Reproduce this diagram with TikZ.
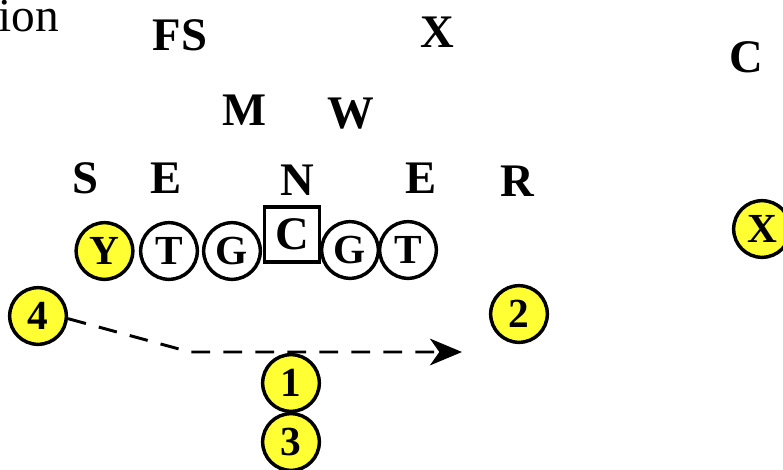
\documentclass[tikz,border=0pt]{standalone}
\usepackage{fontspec}
\setmainfont{Liberation Serif}
\usetikzlibrary{arrows.meta}

\definecolor{qbyellow}{RGB}{255,255,51}

\tikzset{
  player/.style={circle, draw, line width=2.6pt, minimum size=42.5pt, inner sep=0pt,
    font=\fontsize{31}{31}\selectfont\bfseries},
  eligible/.style={player, fill=qbyellow},
  snapbox/.style={rectangle, draw, line width=2.6pt, minimum size=41.5pt, inner sep=0pt,
    font=\fontsize{35}{35}\selectfont\bfseries},
  defender/.style={anchor=base, inner sep=0pt, font=\fontsize{35}{35}\selectfont\bfseries},
  route/.style={line width=2.2pt, dash pattern=on 14pt off 10pt,
    -{Stealth[length=24pt, width=20pt, inset=7pt]}}
}

\begin{document}
\begin{tikzpicture}[x=0.75pt,y=0.75pt,yscale=-1,xscale=1]
\useasboundingbox (0,0) rectangle (783,469);

% Text Node
\node [anchor=base west, inner sep=0pt, font=\fontsize{35.5}{35.5}\selectfont] (cap) at (-2,31) {ion};

%Defense
\node [defender] (fs) at (180,50) {FS};
\node [defender] (dx) at (437,47) {X};
\node [defender] (dc) at (746,72) {C};
\node [defender] (mike) at (245,125) {M};
\node [defender] (will) at (351,128) {W};
\node [defender] (sam) at (85,193) {S};
\node [defender] (el) at (166,193) {E};
\node [defender] (nose) at (297,195) {N};
\node [defender] (er) at (421,193) {E};
\node [defender] (rov) at (517,196) {R};

%Offensive line
\node [eligible] (y) at (104.5,251) {Y};
\node [player] (lt) at (169,251) {T};
\node [player] (lg) at (232,251) {G};
\node [snapbox] (c) at (292,234.5) {C};
\node [player] (rg) at (350,250) {G};
\node [player] (rt) at (408,250) {T};

%Backs and receivers
\node [eligible] (r4) at (38,316) {4};
\node [eligible] (r2) at (519,314) {2};
\node [eligible] (r1) at (291,383) {1};
\node [eligible] (r3) at (291,442) {3};
\node [eligible] (x) at (762,229) {X};

%Route of 4
\coordinate (turn) at (190,352);
\coordinate (tip) at (462,352);
\draw [route] (r4.-5) -- (turn) -- (tip);

\end{tikzpicture}
\end{document}
